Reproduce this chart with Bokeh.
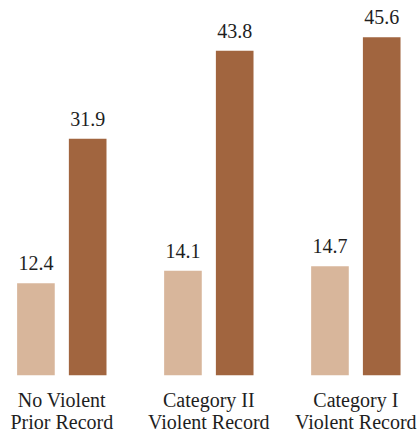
from bokeh.plotting import figure
from bokeh.models import ColumnDataSource, Range1d, LabelSet
from bokeh.core.properties import value
from bokeh.embed import file_html
from bokeh.resources import INLINE

# Data
categories = ["No Violent\nPrior Record", "Category II\nViolent Record", "Category I\nViolent Record"]
series_a = [12.4, 14.1, 14.7]   # lighter bars
series_b = [31.9, 43.8, 45.6]   # darker bars

LIGHT = "#d8b69b"
DARK = "#a1653f"
FONT = "Liberation Serif"
TEXT_COLOR = "#1e1e1e"

idx = list(range(len(categories)))
offset = 0.176
bar_w = 0.256

src_a = ColumnDataSource(dict(x=[i - offset for i in idx], top=series_a,
                              label=[f"{v:.1f}" for v in series_a]))
src_b = ColumnDataSource(dict(x=[i + offset for i in idx], top=series_b,
                              label=[f"{v:.1f}" for v in series_b]))

line1 = [c.split("\n")[0] for c in categories]
line2 = [c.split("\n")[1] for c in categories]
src_cat = ColumnDataSource(dict(x=idx, y=[0] * len(idx), l1=line1, l2=line2))

p = figure(width=419, height=433, output_backend="svg", toolbar_location=None,
           x_range=Range1d(-0.417, 2.433), y_range=Range1d(-7.87, 50.57),
           min_border=0, min_border_left=0, min_border_right=0,
           min_border_top=0, min_border_bottom=0)
p.axis.visible = False
p.grid.visible = False
p.outline_line_color = None
p.background_fill_color = "white"
p.border_fill_color = "white"

p.vbar(x="x", top="top", bottom=0, width=bar_w, source=src_a,
       fill_color=LIGHT, line_color=None)
p.vbar(x="x", top="top", bottom=0, width=bar_w, source=src_b,
       fill_color=DARK, line_color=None)

# value labels above each bar
for src in (src_a, src_b):
    p.add_layout(LabelSet(x="x", y="top", text="label", source=src, text_align="center",
                          text_baseline="alphabetic", y_offset=13,
                          text_font=value(FONT), text_font_size="20px", text_color=TEXT_COLOR))

# two-line category labels under each group
p.add_layout(LabelSet(x="x", y="y", text="l1", source=src_cat, text_align="center",
                      text_baseline="alphabetic", y_offset=-31.5,
                      text_font=value(FONT), text_font_size="20px", text_color=TEXT_COLOR))
p.add_layout(LabelSet(x="x", y="y", text="l2", source=src_cat, text_align="center",
                      text_baseline="alphabetic", y_offset=-54,
                      text_font=value(FONT), text_font_size="20px", text_color=TEXT_COLOR))

open("out.html", "w").write(file_html(p, INLINE))
